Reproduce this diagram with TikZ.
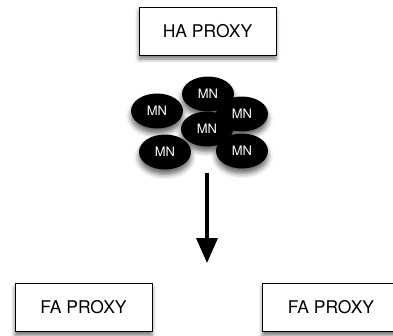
\documentclass[tikz,border=0pt]{standalone}
\usepackage{fontspec}
\setmainfont{TeX Gyre Heros}
\usepackage{tikz}
\usetikzlibrary{arrows.meta,shapes.geometric,shadows.blur}

\tikzset{
  proxy/.style={draw, line width=0.9pt, fill=white, minimum width=137pt, minimum height=48pt,
    font=\fontsize{17.5}{20}\selectfont,
    blur shadow={shadow xshift=0pt, shadow yshift=-4pt, shadow blur radius=4pt, shadow opacity=55}},
  mn/.style={ellipse, fill=black, text=white, minimum width=52pt, minimum height=35pt, inner sep=0pt,
    font=\fontsize{13}{15}\selectfont,
    blur shadow={shadow xshift=0pt, shadow yshift=-5pt, shadow blur radius=5pt, shadow opacity=60}}
}

\begin{document}
\begin{tikzpicture}[x=1pt, y=-1pt]
\useasboundingbox (0,0) rectangle (393,335);

\node[proxy] (ha) at (207.5,31) {HA PROXY};

% cluster of MN nodes
\node[mn] (mntop) at (208,94) {MN};
\node[mn] (mnleft) at (157,111) {MN};
\node[mn] (mnright) at (242,114) {MN};
\node[mn] (mnbl) at (165,152) {MN};
\node[mn] (mnbr) at (242,151) {MN};
\node[mn] (mnmid) at (207,129) {MN};

\coordinate (arrtop) at (207,173);
\coordinate (arrtip) at (207,263);
\draw[line width=3.5pt, -{Triangle[length=25pt,width=21pt]}] (arrtop) -- (arrtip);

\node[proxy] (fa1) at (83.5,307.5) {FA PROXY};
\node[proxy] (fa2) at (331,307.5) {FA PROXY};
\end{tikzpicture}
\end{document}
